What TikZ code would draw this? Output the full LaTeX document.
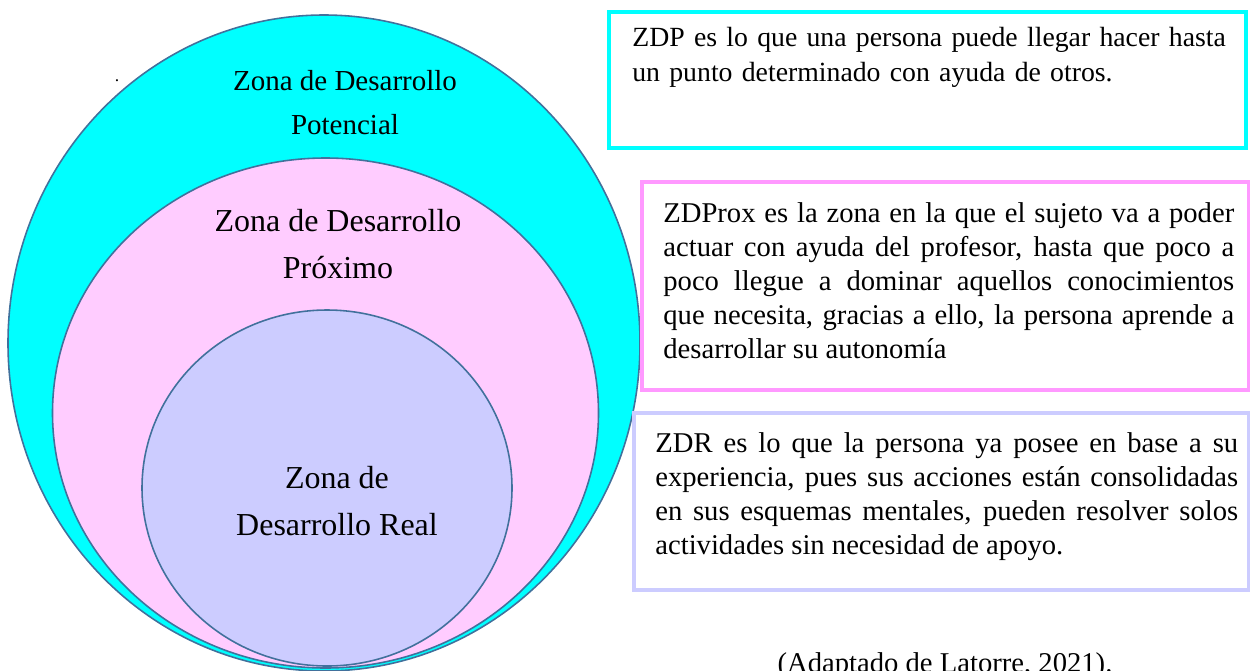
\documentclass[tikz,border=0pt]{standalone}
\usepackage{fontspec}
\setmainfont{Liberation Serif}
\usetikzlibrary{positioning}

\definecolor{zdpcyan}{HTML}{00FFFF}
\definecolor{proxpink}{HTML}{FFCCFF}
\definecolor{proxframe}{HTML}{FF99FF}
\definecolor{reallila}{HTML}{CCCCFF}
\definecolor{zonaline}{HTML}{41719C}

\begin{document}
\begin{tikzpicture}[x=0.02cm, y=-0.02cm,
    zona/.style={draw=zonaline, line width=0.9pt},
    zonalabel/.style={align=center, inner sep=0pt},
    defframe/.style={line width=2.3pt},
    deftext/.style={inner sep=0pt, align=justify, font=\fontsize{16.3}{19.4}\selectfont}]
    \useasboundingbox (0,0) rectangle (1250,670);
    % Zones
    \draw[zona, fill=zdpcyan] (324,343) ellipse [x radius=316, y radius=328];
    \draw[zona, fill=proxpink] (325.5,413) ellipse [x radius=273, y radius=255];
    \draw[zona, fill=reallila] (327,488) ellipse [x radius=185, y radius=178];
    \node[inner sep=0pt] (dot) at (117,81) {.};
    \node[zonalabel, font=\fontsize{16.5}{24.5}\selectfont, anchor=base] (zdp) at (345,134) {Zona de Desarrollo\\Potencial};
    \node[zonalabel, font=\fontsize{18.2}{26.7}\selectfont, anchor=base] (zdprox) at (338,278) {Zona de Desarrollo\\Próximo};
    \node[zonalabel, font=\fontsize{18.2}{26.7}\selectfont, anchor=base] (zdr) at (337,535) {Zona de\\Desarrollo Real};
    % Definitions
    \draw[defframe, draw=zdpcyan, line width=2.8pt] (609,12) rectangle (1246,148);
    \node[inner sep=0pt, align=left, text width=12.4cm, font=\fontsize{15.8}{20}\selectfont, anchor=base west] (zdptext) at (632,46) {ZDP es lo que una persona puede llegar hacer hasta\\un punto determinado con ayuda de otros.};
    \draw[defframe, draw=proxframe] (642,182) rectangle (1249,390);
    \node[deftext, text width=11.42cm, anchor=base west] (zdproxtext) at (663,222) {ZDProx es la zona en la que el sujeto va a poder\linebreak actuar con ayuda del profesor, hasta que poco a\linebreak poco llegue a dominar aquellos conocimientos\linebreak que necesita, gracias a ello, la persona aprende a\linebreak desarrollar su autonomía};
    \draw[defframe, draw=reallila] (634,413) rectangle (1249,590);
    \node[deftext, text width=11.66cm, anchor=base west] (zdrtext) at (655,452) {ZDR es lo que la persona ya posee en base a su\linebreak experiencia, pues sus acciones están consolidadas\linebreak en sus esquemas mentales, pueden resolver solos\linebreak actividades sin necesidad de apoyo.};
    \node[font=\fontsize{16.3}{19.4}\selectfont, anchor=base] (fuente) at (945,672) {(Adaptado de Latorre, 2021).};
\end{tikzpicture}
\end{document}
